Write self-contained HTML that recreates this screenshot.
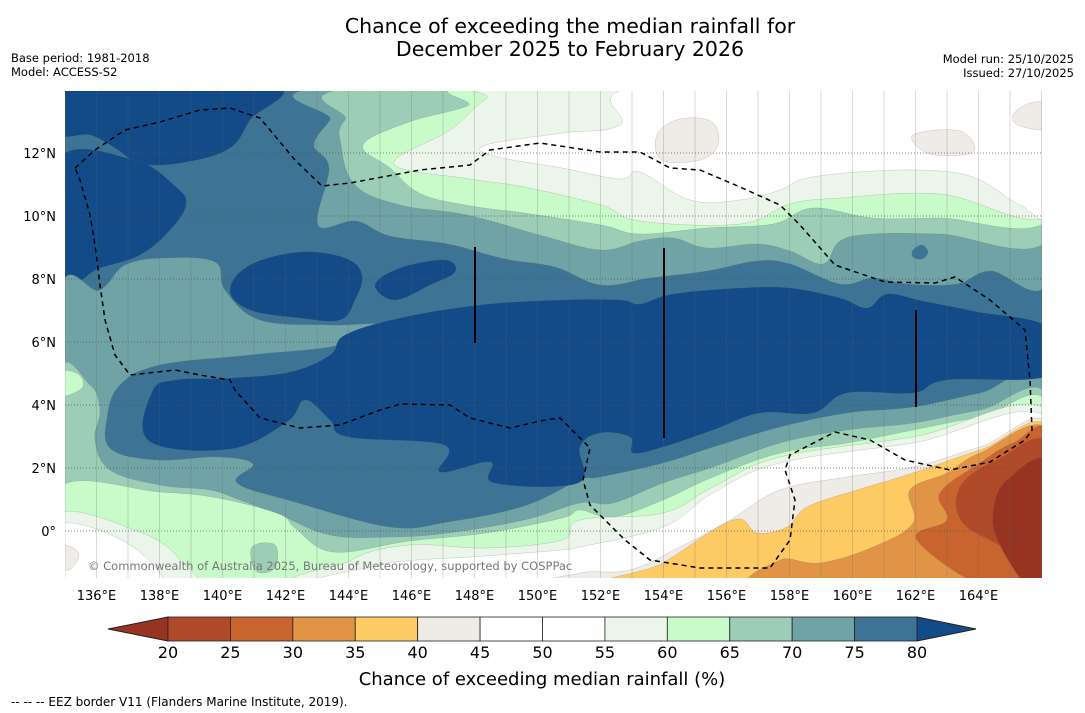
<!DOCTYPE html>
<html><head><meta charset="utf-8"><style>
body{margin:0;background:#fff;font-family:"DejaVu Sans","Liberation Sans",sans-serif;}
svg{display:block}
</style></head><body>
<svg width="1085" height="713" viewBox="0 0 1085 713">
<text x="570" y="33" font-size="20.5" text-anchor="middle">Chance of exceeding the median rainfall for</text>
<text x="570" y="56" font-size="20.5" text-anchor="middle">December 2025 to February 2026</text>
<text x="11" y="62" font-size="11.5">Base period: 1981-2018</text>
<text x="11" y="76" font-size="11.5">Model: ACCESS-S2</text>
<text x="1074" y="63" font-size="11.5" text-anchor="end">Model run: 25/10/2025</text>
<text x="1074" y="77" font-size="11.5" text-anchor="end">Issued: 27/10/2025</text>
<defs><clipPath id="mc"><rect x="65" y="91" width="977" height="487"/></clipPath></defs>
<g id="map" clip-path="url(#mc)"></g>
<g id="grid" clip-path="url(#mc)"></g>
<path fill="none" stroke="#000" stroke-width="1.5" stroke-dasharray="5,4" clip-path="url(#mc)"
d="M75,168 L95,150 L125,130 L160,122 L200,110 L230,108 L260,118 L295,160 L322,186 L350,183 L420,170 L470,165 L490,150 L540,143 L600,152 L640,152 L670,168 L700,170 L740,187 L780,205 L800,225 L835,265 L885,282 L935,283 L955,277 L990,300 L1025,330 L1030,380 L1032,430 L1025,440 L990,462 L950,470 L905,460 L870,440 L835,432 L790,455 L785,470 L795,500 L790,540 L770,568 L700,568 L650,560 L625,540 L590,505 L583,480 L590,448 L560,418 L545,420 L510,428 L470,418 L450,405 L400,404 L380,410 L340,425 L300,428 L260,418 L235,390 L230,380 L200,375 L175,370 L130,375 L115,355 L105,320 L100,285 L95,245 L90,215 L80,180 Z"/>
<g stroke="#000" stroke-width="2">
<line x1="475" y1="247" x2="475" y2="343"/><line x1="664" y1="248" x2="664" y2="438"/><line x1="916" y1="310" x2="916" y2="407"/>
</g>
<text x="88" y="570" font-size="11.5" fill="#777">© Commonwealth of Australia 2025, Bureau of Meteorology, supported by COSPPac</text>
<g id="axes" font-size="13"></g>
<g id="cbar"></g>
<text x="542" y="685" font-size="18" text-anchor="middle">Chance of exceeding median rainfall (%)</text>
<text x="11" y="706" font-size="12">--  --  -- EEZ border V11 (Flanders Marine Institute, 2019).</text>
</svg>
<script>
const lonTicks=[136,138,140,142,144,146,148,150,152,154,156,158,160,162,164];
const latTicks=[0,2,4,6,8,10,12];
const cbLevels=[20,25,30,35,40,45,50,55,60,65,70,75,80];
const cbColors=['#b04a28','#c9642f','#e19346','#fdca63','#efebe6','#ffffff','#ffffff','#ebf5ea','#c9fac9','#9ccdb6','#6fa3a6','#3d7495'];
const lowColor='#963421', highColor='#124b87';
const X=lon=>65+(lon-135)*31.5;
const Y=lat=>531-lat*31.5;
const NS='http://www.w3.org/2000/svg';
function mk(t,a,p){const e=document.createElementNS(NS,t);for(const k in a)e.setAttribute(k,a[k]);p.appendChild(e);return e;}
const contours=[
 ['#6fa3a6','teal-north',[[356,85],[330,120],[314,145],[329,168],[318,225],[356,221],[390,236],[448,244],[505,259],[555,267],[601,285],[650,278],[707,271],[757,261],[790,264],[840,284],[873,278],[907,284],[957,284],[990,271],[1050,278],[1050,85]]],
 ['#9ccdb6','green-north',[[390,85],[345,120],[341,145],[355,185],[400,205],[467,215],[543,236],[601,250],[640,241],[673,238],[707,248],[757,244],[790,251],[823,264],[840,241],[873,234],[940,234],[1050,238],[1050,85]]],
 ['#c9fac9','lightgreen-north',[[500,85],[467,106],[409,122],[363,145],[390,168],[421,194],[471,206],[524,213],[601,225],[640,234],[707,228],[773,224],[813,208],[873,218],[940,218],[1050,218],[1050,85]]],
 ['#ebf5ea','palegreen-north',[[520,85],[486,99],[450,130],[394,164],[470,179],[524,187],[601,205],[640,221],[740,224],[790,204],[840,198],[940,194],[1050,214],[1050,85]]],
 ['#ffffff','white-north',[[486,145],[562,133],[620,125],[650,85],[1050,85],[1050,210],[1020,205],[980,180],[940,171],[873,171],[807,178],[780,190],[740,200],[690,200],[640,172],[620,179],[562,168],[494,156]]],
 ['#efebe6','brown-blob-1',[[657,135],[680,119],[712,122],[718,145],[700,160],[662,160]]],
 ['#efebe6','brown-blob-2',[[913,135],[960,131],[973,152],[930,154]]],
 ['#efebe6','brown-blob-3',[[1013,115],[1030,103],[1048,105],[1048,128],[1020,126]]],
 ['#3d7495','blue-blob-ne',[[913,250],[922,245],[928,252],[922,259],[913,257]]],
 ['#124b87','dark-northwest',[[58,85],[272,85],[250,120],[230,148],[187,162],[142,164],[115,148],[90,135],[58,133]]],
 ['#124b87','dark-west',[[58,160],[134,160],[176,187],[186,205],[170,230],[140,255],[100,268],[58,282]]],
 ['#124b87','dark-blob-a',[[230,290],[250,265],[300,252],[345,258],[362,275],[355,300],[340,320],[300,318],[250,310]]],
 ['#124b87','dark-blob-b',[[375,285],[400,268],[445,260],[455,272],[430,285],[395,300]]],
 ['#6fa3a6','teal-south-west',[[58,300],[100,290],[125,265],[165,258],[215,262],[225,290],[260,320],[330,325],[380,325],[340,345],[250,355],[160,365],[120,385],[107,418],[111,449],[157,460],[218,457],[253,464],[237,483],[295,502],[390,527],[448,522],[524,506],[580,480],[600,477],[663,463],[713,447],[780,427],[847,413],[913,407],[980,393],[1050,380],[1050,590],[58,590]]],
 ['#9ccdb6','green-south',[[58,378],[90,385],[100,410],[95,440],[110,470],[160,485],[210,490],[240,500],[280,515],[330,535],[390,537],[448,533],[524,520],[580,503],[613,503],[663,483],[713,467],[780,443],[847,430],[913,423],[980,410],[1050,400],[1050,590],[58,590]]],
 ['#c9fac9','lightgreen-west-dot',[[58,372],[78,374],[82,388],[58,396]]],
 ['#c9fac9','lightgreen-south',[[58,488],[160,492],[218,498],[279,514],[295,528],[333,552],[409,541],[486,533],[562,518],[580,510],[613,517],[663,500],[713,477],[780,453],[847,443],[913,430],[980,417],[1050,407],[1050,590],[58,590]]],
 ['#9ccdb6','green-patch',[[252,547],[275,545],[275,568],[256,571]]],
 ['#ebf5ea','palegreen-sw',[[58,514],[142,533],[180,560],[191,590],[58,590]]],
 ['#ebf5ea','palegreen-south',[[345,590],[352,560],[409,545],[486,548],[562,540],[580,520],[663,513],[713,487],[780,457],[913,437],[1050,413],[1050,590]]],
 ['#ffffff','white-sw',[[58,525],[130,545],[160,590],[58,590]]],
 ['#ffffff','white-south',[[365,590],[380,565],[486,556],[562,550],[580,547],[663,527],[713,493],[780,463],[913,443],[1050,420],[1050,590]]],
 ['#efebe6','brown-sw',[[58,545],[78,552],[72,568],[58,568]]],
 ['#efebe6','brown-south',[[560,590],[580,573],[630,570],[680,547],[730,520],[780,490],[847,477],[913,467],[980,447],[1050,427],[1050,590]]],
 ['#fdca63','yellow-south',[[615,590],[663,563],[733,520],[757,533],[787,527],[807,507],[857,490],[913,473],[980,450],[1050,430],[1050,590]]],
 ['#e19346','orange-south',[[767,590],[780,560],[820,563],[873,547],[913,523],[910,490],[947,473],[980,453],[1050,433],[1050,590]]],
 ['#c9642f','orange-dark-south',[[990,590],[917,540],[947,520],[940,493],[980,463],[1013,443],[1050,437],[1050,590]]],
 ['#b04a28','red-south',[[1027,590],[1010,553],[963,523],[960,487],[997,460],[1050,447],[1050,590]]],
 ['#963421','deep-red-south',[[1050,465],[1007,480],[993,513],[1000,545],[1030,590],[1050,590]]],
 ['#124b87','dark-central',[[152,392],[175,380],[230,378],[290,372],[330,355],[345,335],[400,318],[480,305],[560,300],[620,300],[640,304],[673,294],[740,288],[790,288],[840,298],[867,308],[887,294],[923,301],[973,311],[1050,328],[1050,375],[947,380],[913,393],[847,393],[813,413],[760,413],[713,430],[663,447],[633,453],[630,437],[600,433],[580,447],[578,483],[494,483],[490,462],[440,472],[444,445],[348,437],[330,420],[305,400],[287,422],[230,449],[149,441]]]
];
const map=document.getElementById('map');
function smooth(p){
  const n=p.length;let d=`M${p[0][0]},${p[0][1]}`;
  for(let i=0;i<n;i++){
    const p0=p[(i-1+n)%n],p1=p[i],p2=p[(i+1)%n],p3=p[(i+2)%n];
    const t=0.18;
    const c1=[p1[0]+(p2[0]-p0[0])*t,p1[1]+(p2[1]-p0[1])*t];
    const c2=[p2[0]-(p3[0]-p1[0])*t,p2[1]-(p3[1]-p1[1])*t];
    d+=` C${c1[0].toFixed(1)},${c1[1].toFixed(1)} ${c2[0].toFixed(1)},${c2[1].toFixed(1)} ${p2[0]},${p2[1]}`;
  }
  return d+'Z';
}
const bg=mk('rect',{x:65,y:91,width:977,height:487,fill:'#3d7495'},map);


contours.forEach(c=>{
  const e=mk('path',{d:smooth(c[2]),fill:c[0],stroke:'#666','stroke-width':0.5,'stroke-opacity':0.35},map);
  
  
});
const grid=document.getElementById('grid');
for(let lon=135;lon<=166;lon++){const g=mk('line',{x1:X(lon),x2:X(lon),y1:91,y2:578,stroke:'#666','stroke-width':0.7,'stroke-opacity':0.35},grid);

}
latTicks.forEach(lat=>{const g=mk('line',{x1:65,x2:1042,y1:Y(lat),y2:Y(lat),stroke:'#555','stroke-width':0.8,'stroke-dasharray':'1,2'},grid);

});
const axes=document.getElementById('axes');
lonTicks.forEach(l=>{const t=mk('text',{x:X(l),y:600,'text-anchor':'middle'},axes);t.textContent=l+'°E';

});
latTicks.forEach(l=>{const t=mk('text',{x:56,y:Y(l)+5,'text-anchor':'end'},axes);t.textContent=l===0?'0°':l+'°N';

});
const cb=document.getElementById('cbar');
const cx0=168,cx1=917,cy=617,ch=24,w=(cx1-cx0)/cbColors.length;
const lt=mk('polygon',{points:`${cx0},${cy} 108,${cy+ch/2} ${cx0},${cy+ch}`,fill:lowColor,stroke:'#222','stroke-width':1},cb);


const rt=mk('polygon',{points:`${cx1},${cy} 976,${cy+ch/2} ${cx1},${cy+ch}`,fill:highColor,stroke:'#222','stroke-width':1},cb);


cbColors.forEach((c,i)=>{const r=mk('rect',{x:cx0+i*w,y:cy,width:w,height:ch,fill:c,stroke:'#222','stroke-width':0.8},cb);

});
cbLevels.forEach((v,i)=>{const t=mk('text',{x:cx0+i*w,y:658,'font-size':16,'text-anchor':'middle'},cb);t.textContent=v;

});
</script>
</body></html>
